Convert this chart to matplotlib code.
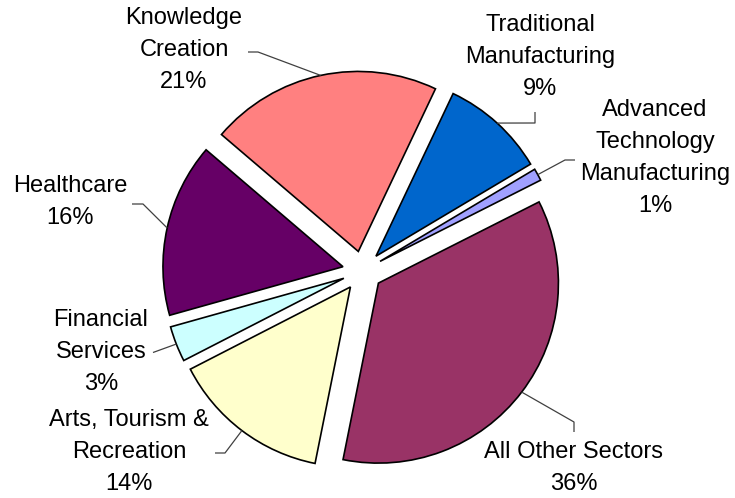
import numpy as np
import matplotlib
matplotlib.use("Agg")
import matplotlib.pyplot as plt

# ---- data ----
sectors = ["Knowledge\nCreation", "Traditional\nManufacturing",
           "Advanced\nTechnology\nManufacturing", "All Other Sectors",
           "Arts, Tourism &\nRecreation", "Financial\nServices", "Healthcare"]
shares = [20.8, 9.4, 1.1, 35.6, 14.3, 3.2, 15.6]
colors = ["#FF8080", "#0066CC", "#A0A0FF", "#993366", "#FFFFCC", "#CCFFFF", "#660066"]

# ---- layout (pixel space, origin bottom-left) ----
W, H = 735, 498
CX, CY = 362.5, H - 271
R = 180
EXPLODE = 20
START = 139.5

label_xy = [(184, H - 50), (540, H - 57), (655, H - 158), (574, H - 468),
            (129, H - 452), (101, H - 352), (70, H - 202)]
# leader line: (label-side point, elbow point), image pixel coords
leader_pts = [((248, 52), (258, 52)),
              ((535, 112), (535, 123)),
              ((575, 160), (565, 160)),
              ((574, 432), (574, 422)),
              ((215, 453), (225, 453)),
              ((153, 352.5), (153, 352.5)),
              ((132, 204), (143, 204))]

fig = plt.figure(figsize=(W / 100, H / 100), dpi=100)
ax = fig.add_axes([0, 0, 1, 1])

wedges, _ = ax.pie(shares, colors=colors, startangle=START, counterclock=False,
                   radius=R, center=(CX, CY), explode=[EXPLODE] * len(shares),
                   wedgeprops=dict(edgecolor="black", linewidth=1.2))
ax.set_xlim(0, W)
ax.set_ylim(0, H)
ax.set_aspect("equal")
ax.axis("off")

total = sum(shares)
for i, (name, v) in enumerate(zip(sectors, shares)):
    txt = f"{name}\n{round(100 * v / total)}%"
    ax.text(label_xy[i][0], label_xy[i][1], txt, ha="center", va="center",
            fontsize=17, family="Liberation Sans", linespacing=1.58,
            color="black")
    w = wedges[i]
    cx, cy = w.center
    a = np.deg2rad((w.theta1 + w.theta2) / 2)
    end = (cx + R * np.cos(a), cy + R * np.sin(a))
    p0, p1 = leader_pts[i]
    ax.plot([p0[0], p1[0], end[0]], [H - p0[1], H - p1[1], end[1]],
            color="#404040", linewidth=0.9, solid_capstyle="butt")

fig.savefig("out.png", dpi=100)
